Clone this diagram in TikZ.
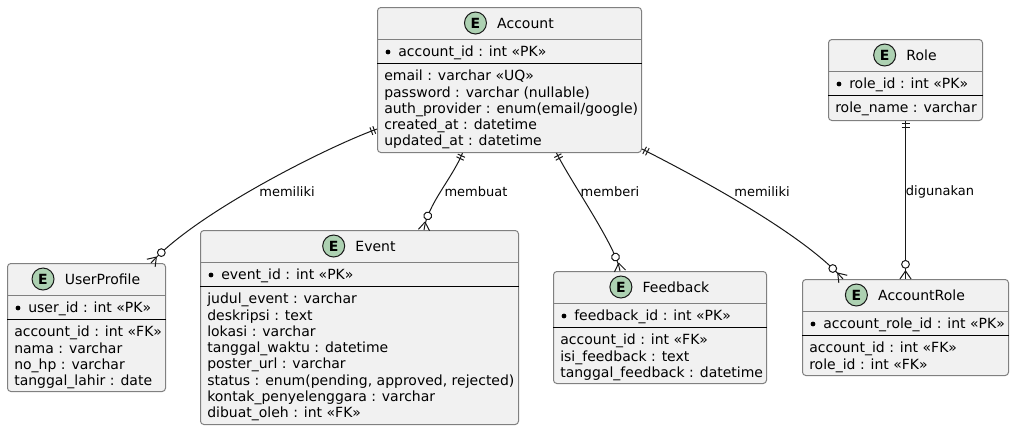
\documentclass[tikz,border=0pt]{standalone}
\usepackage{fontspec}
\setmainfont{DejaVu Sans}
\usetikzlibrary{positioning,calc,decorations.markings}
\definecolor{entfill}{HTML}{F1F1F1}
\definecolor{entline}{HTML}{808080}
\definecolor{badgefill}{HTML}{ADD1B2}
\definecolor{linkline}{HTML}{181818}
\newcommand{\unitpx}{0.75pt}
\tikzset{
    entbox/.style={draw=entline, fill=entfill, line width=0.75pt, rounded corners=2.5pt,
        anchor=north west, inner sep=0pt},
    divline/.style={draw=entline, line width=0.75pt},
    keyline/.style={draw=black, line width=0.75pt},
    badge/.style={circle, draw=linkline, fill=badgefill, line width=0.75pt,
        minimum size=22*\unitpx, inner sep=0pt, font=\fontsize{10.5pt}{12pt}\selectfont\bfseries},
    title/.style={inner sep=0pt, font=\fontsize{10.5pt}{12pt}\selectfont},
    keyfield/.style={inner sep=0pt, anchor=base west, font=\fontsize{10.5pt}{12.2pt}\selectfont},
    fields/.style={inner sep=0pt, anchor=north west, align=left, font=\fontsize{10.5pt}{12.2pt}\selectfont},
    lbl/.style={inner sep=0pt, font=\fontsize{9.75pt}{11pt}\selectfont},
    link/.style={draw=linkline, line width=0.75pt, postaction={decorate},
        decoration={markings,
            mark=at position 2.2pt with {\draw[linkline, line width=0.75pt] (0,-3pt) -- (0,3pt);},
            mark=at position 4.5pt with {\draw[linkline, line width=0.75pt] (0,-3pt) -- (0,3pt);},
            mark=at position -11pt with {\draw[linkline, line width=0.75pt, fill=white] (0,0) circle (2.9pt);},
            mark=at position -0.2pt with {\draw[linkline, line width=0.75pt] (-5.8pt,0) -- (0.2pt,4.2pt) (-5.8pt,0) -- (0.2pt,-4.2pt);}}}
}

\begin{document}
\begin{tikzpicture}[x=0.75pt, y=-0.75pt]
                    \useasboundingbox (0,0) rectangle (1014,430);

                    \node[entbox, minimum width=264*\unitpx, minimum height=145*\unitpx] (account) at (377,7) {};
                    \node[title] (account-name) at ($(account.north)+(16,16)$) {Account};
                    \node[badge, left=7.5pt of account-name] (account-badge) {E};
                    \draw[divline] ($(account.north west)+(0,32)$) -- ($(account.north east)+(0,32)$);
                    \fill ($(account.north west)+(11,45)$) circle (1.8pt);
                    \node[keyfield] (account-key) at ($(account.north west)+(21,49)$) {account\_id : int «PK»};
                    \draw[keyline] ($(account.north west)+(0,56)$) -- ($(account.north east)+(0,56)$);
                    \node[fields] (account-fields) at ($(account.north west)+(7,63)$) {email : varchar «UQ»\\
                        password : varchar (nullable)\\ auth\_provider : enum(email/google)\\
                        created\_at : datetime\\ updated\_at : datetime};

                    \node[entbox, minimum width=154*\unitpx, minimum height=81*\unitpx] (role) at (828,39) {};
                    \node[title] (role-name) at ($(role.north)+(16,16)$) {Role};
                    \node[badge, left=7.5pt of role-name] (role-badge) {E};
                    \draw[divline] ($(role.north west)+(0,32)$) -- ($(role.north east)+(0,32)$);
                    \fill ($(role.north west)+(11,45)$) circle (1.8pt);
                    \node[keyfield] (role-key) at ($(role.north west)+(21,49)$) {role\_id : int «PK»};
                    \draw[keyline] ($(role.north west)+(0,56)$) -- ($(role.north east)+(0,56)$);
                    \node[fields] (role-fields) at ($(role.north west)+(7,63)$) {role\_name : varchar};

                    \node[entbox, minimum width=158*\unitpx, minimum height=128*\unitpx] (userprofile) at (7,263) {};
                    \node[title] (userprofile-name) at ($(userprofile.north)+(16,16)$) {UserProfile};
                    \node[badge, left=7.5pt of userprofile-name] (userprofile-badge) {E};
                    \draw[divline] ($(userprofile.north west)+(0,32)$) -- ($(userprofile.north east)+(0,32)$);
                    \fill ($(userprofile.north west)+(11,45)$) circle (1.8pt);
                    \node[keyfield] (userprofile-key) at ($(userprofile.north west)+(21,49)$) {user\_id : int «PK»};
                    \draw[keyline] ($(userprofile.north west)+(0,56)$) -- ($(userprofile.north east)+(0,56)$);
                    \node[fields] (userprofile-fields) at ($(userprofile.north west)+(7,63)$) {account\_id : int «FK»\\
                        nama : varchar\\ no\_hp : varchar\\ tanggal\_lahir : date};

                    \node[entbox, minimum width=318*\unitpx, minimum height=194*\unitpx] (event) at (200,230) {};
                    \node[title] (event-name) at ($(event.north)+(16,16)$) {Event};
                    \node[badge, left=7.5pt of event-name] (event-badge) {E};
                    \draw[divline] ($(event.north west)+(0,32)$) -- ($(event.north east)+(0,32)$);
                    \fill ($(event.north west)+(11,45)$) circle (1.8pt);
                    \node[keyfield] (event-key) at ($(event.north west)+(21,49)$) {event\_id : int «PK»};
                    \draw[keyline] ($(event.north west)+(0,56)$) -- ($(event.north east)+(0,56)$);
                    \node[fields] (event-fields) at ($(event.north west)+(7,63)$) {judul\_event : varchar\\
                        deskripsi : text\\ lokasi : varchar\\ tanggal\_waktu : datetime\\ poster\_url : varchar\\
                        status : enum(pending, approved, rejected)\\ kontak\_penyelenggara : varchar\\
                        dibuat\_oleh : int «FK»};

                    \node[entbox, minimum width=213*\unitpx, minimum height=112*\unitpx] (feedback) at (553,271) {};
                    \node[title] (feedback-name) at ($(feedback.north)+(16,16)$) {Feedback};
                    \node[badge, left=7.5pt of feedback-name] (feedback-badge) {E};
                    \draw[divline] ($(feedback.north west)+(0,32)$) -- ($(feedback.north east)+(0,32)$);
                    \fill ($(feedback.north west)+(11,45)$) circle (1.8pt);
                    \node[keyfield] (feedback-key) at ($(feedback.north west)+(21,49)$) {feedback\_id : int «PK»};
                    \draw[keyline] ($(feedback.north west)+(0,56)$) -- ($(feedback.north east)+(0,56)$);
                    \node[fields] (feedback-fields) at ($(feedback.north west)+(7,63)$) {account\_id : int «FK»\\
                        isi\_feedback : text\\ tanggal\_feedback : datetime};

                    \node[entbox, minimum width=206*\unitpx, minimum height=96*\unitpx] (accountrole) at (802,279) {};
                    \node[title] (accountrole-name) at ($(accountrole.north)+(16,16)$) {AccountRole};
                    \node[badge, left=7.5pt of accountrole-name] (accountrole-badge) {E};
                    \draw[divline] ($(accountrole.north west)+(0,32)$) -- ($(accountrole.north east)+(0,32)$);
                    \fill ($(accountrole.north west)+(11,45)$) circle (1.8pt);
                    \node[keyfield] (accountrole-key) at ($(accountrole.north west)+(21,49)$) {account\_role\_id : int «PK»};
                    \draw[keyline] ($(accountrole.north west)+(0,56)$) -- ($(accountrole.north east)+(0,56)$);
                    \node[fields] (accountrole-fields) at ($(accountrole.north west)+(7,63)$) {account\_id : int «FK»\\
                        role\_id : int «FK»};

                    \draw[link] ($(account.south west)+(0,-24)$) .. controls +(-50,18) and +(45,-50) .. ($(userprofile.north east)+(-15,0)$);
                    \draw[link] ($(account.south)+(-47,0)$) .. controls +(-10,25) and +(3,-25) .. ($(event.north west)+(224,0)$);
                    \draw[link] ($(account.south)+(47,0)$) .. controls +(15,30) and +(-4,-25) .. ($(feedback.north west)+(67,0)$);
                    \draw[link] ($(account.south east)+(0,-4)$) .. controls +(59,30) and +(-40,-45) .. ($(accountrole.north west)+(41,0)$);
                    \draw[link] (role.south) -- (accountrole.north);

                    \node[lbl] (lbl-profile) at (287,192) {memiliki};
                    \node[lbl] (lbl-event) at (476,192) {membuat};
                    \node[lbl] (lbl-feedback) at (610,192) {memberi};
                    \node[lbl] (lbl-accountrole) at (762,192) {memiliki};
                    \node[lbl] (lbl-role) at (940,192) {digunakan};
                \end{tikzpicture}
\end{document}
